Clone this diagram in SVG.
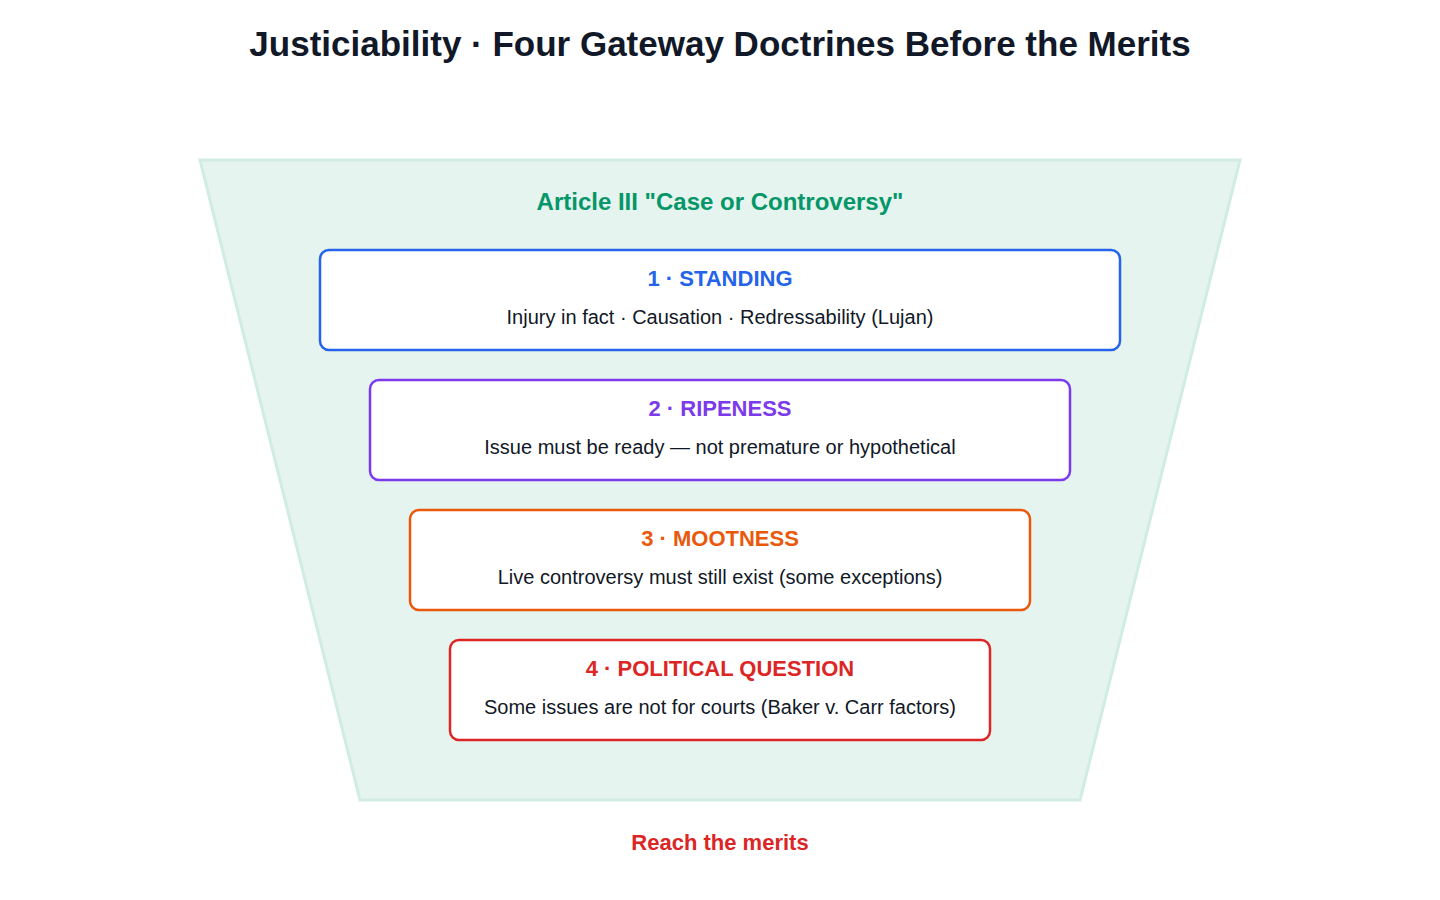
<svg xmlns="http://www.w3.org/2000/svg" width="1440" height="900" viewBox="0 0 1440 900">
<style>
text{font-family:"Liberation Sans",Arial,sans-serif;text-anchor:middle}
.t{font-size:22px;font-weight:bold}
.s{font-size:20px;fill:#111827}
.b{fill:#fff;stroke-width:2.5}
</style>
<rect width="1440" height="900" fill="#fff"/>
<text x="720" y="56" style="font-size:35px;font-weight:bold;fill:#111827">Justiciability · Four Gateway Doctrines Before the Merits</text>
<g id="funnel">
<polygon points="200,160 1240,160 1080,800 360,800" fill="#e5f4ee" stroke="#d1ece2" stroke-width="3"/>
<text x="720" y="210" style="font-size:24px;font-weight:bold;fill:#059669">Article III "Case or Controversy"</text>
</g>
<g id="standing">
<rect class="b" x="320" y="250" width="800" height="100" rx="9" stroke="#2563eb"/>
<text class="t" x="720" y="286" fill="#2563eb">1 · STANDING</text>
<text class="s" x="720" y="324">Injury in fact · Causation · Redressability (Lujan)</text>
</g>
<g id="ripeness">
<rect class="b" x="370" y="380" width="700" height="100" rx="9" stroke="#7c3aed"/>
<text class="t" x="720" y="416" fill="#7c3aed">2 · RIPENESS</text>
<text class="s" x="720" y="454">Issue must be ready — not premature or hypothetical</text>
</g>
<g id="mootness">
<rect class="b" x="410" y="510" width="620" height="100" rx="9" stroke="#ea580c"/>
<text class="t" x="720" y="546" fill="#ea580c">3 · MOOTNESS</text>
<text class="s" x="720" y="584">Live controversy must still exist (some exceptions)</text>
</g>
<g id="political">
<rect class="b" x="450" y="640" width="540" height="100" rx="9" stroke="#dc2626"/>
<text class="t" x="720" y="676" fill="#dc2626">4 · POLITICAL QUESTION</text>
<text class="s" x="720" y="714">Some issues are not for courts (Baker v. Carr factors)</text>
</g>
<g id="connectors"></g>
<g id="merits">
<text class="t" x="720" y="850" fill="#dc2626">Reach the merits</text>
</g>
</svg>
